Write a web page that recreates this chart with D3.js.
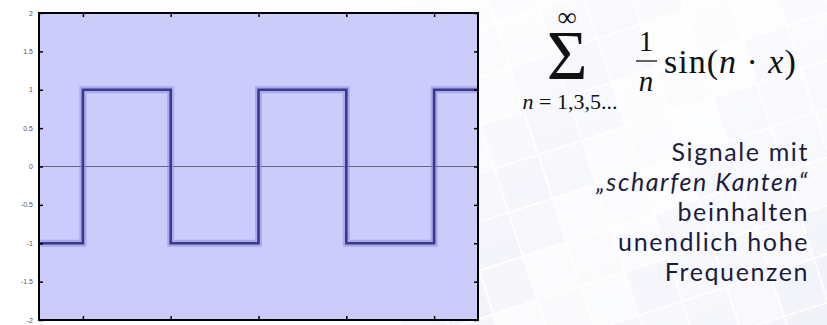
<!DOCTYPE html>
<html>
<head>
<meta charset="utf-8">
<script src="https://cdn.jsdelivr.net/npm/d3@7"></script>
<style>
  html, body { margin: 0; padding: 0; background: #ffffff; }
  svg { display: block; }
  .ylab { font-family: "Liberation Sans", Arial, sans-serif; font-size: 7px; fill: #555; }
  .math { font-family: "Liberation Serif", "DejaVu Serif", serif; fill: #111; }
  .note { font-family: Lato, "Noto Sans", sans-serif; font-size: 25px; fill: #1c1c3c; letter-spacing: 1.6px; }
</style>
</head>
<body>
<svg id="chart" width="827" height="325"></svg>
<script>
// square wave: x in multiples of pi, value holds until the next break
const waveX = [-0.5, 0, 1, 2, 3, 4, 4.5];
const waveY = [-1, 1, -1, 1, -1, 1, 1];

const xTicks = [0, 1, 2, 3, 4];
const yTicks = [2, 1.5, 1, 0.5, 0, -0.5, -1, -1.5, -2];

const noteLines = ["Signale mit", "\u201Escharfen Kanten\u201C", "beinhalten", "unendlich hohe", "Frequenzen"];

const svg = d3.select("#chart");

// faint tiled backdrop on the right
let deco = svg.append("g")
    .attr("transform", "translate(640,170) rotate(-18)");
let shades = [0.35, 0.6, 0.2, 0.5, 0.8, 0.3, 0.45, 0.7, 0.25, 0.55];
let k = 0;
for (let r = -5; r <= 4; r++) {
    for (let c = -6; c <= 5; c++) {
        deco.append("rect")
            .attr("x", c * 46)
            .attr("y", r * 46)
            .attr("width", 46)
            .attr("height", 46)
            .attr("fill", "#d8dbf2")
            .attr("fill-opacity", shades[(k * 7 + r * 3 + 50) % shades.length] * 0.45)
            .attr("stroke", "#ffffff")
            .attr("stroke-width", 1.5);
        k++;
    }
}
// fade the backdrop out towards the top-left
let grad = svg.append("defs").append("linearGradient")
    .attr("id", "fade").attr("x1", "0").attr("y1", "0").attr("x2", "0.8").attr("y2", "1");
grad.append("stop").attr("offset", "0%").attr("stop-color", "#fff").attr("stop-opacity", 1);
grad.append("stop").attr("offset", "50%").attr("stop-color", "#fff").attr("stop-opacity", 0.45);
grad.append("stop").attr("offset", "100%").attr("stop-color", "#fff").attr("stop-opacity", 0.05);
svg.append("rect").attr("x", 0).attr("y", 0).attr("width", 827).attr("height", 325).attr("fill", "url(#fade)");

// plot
const plotLeft = 39, plotRight = 478, plotTop = 13, plotBottom = 320;
const x = d3.scaleLinear().domain([-0.5, 4.5]).range([plotLeft, plotRight]);
const y = d3.scaleLinear().domain([-2, 2]).range([plotBottom, plotTop]);

svg.append("rect")
    .attr("x", plotLeft).attr("y", plotTop)
    .attr("width", plotRight - plotLeft).attr("height", plotBottom - plotTop)
    .attr("fill", "#cbccf9");

// zero line
svg.append("line")
    .attr("x1", plotLeft).attr("x2", plotRight)
    .attr("y1", y(0)).attr("y2", y(0))
    .attr("stroke", "#4a4a66").attr("stroke-width", 0.8);

let pts = waveX.map((d, i) => [d, waveY[i]]);
let line = d3.line()
    .x(d => x(d[0]))
    .y(d => y(d[1]))
    .curve(d3.curveStepAfter);

// glow under the wave
svg.append("path")
    .datum(pts)
    .attr("d", line)
    .attr("fill", "none")
    .attr("stroke", "#8d8de6")
    .attr("stroke-opacity", 0.55)
    .attr("stroke-width", 7);

svg.append("path")
    .datum(pts)
    .attr("d", line)
    .attr("fill", "none")
    .attr("stroke", "#3a3a86")
    .attr("stroke-width", 2.6);

// axes, ticks pointing inward
svg.append("g")
    .attr("transform", `translate(0,${plotBottom})`)
    .call(d3.axisTop(x).tickValues(xTicks).tickSize(4).tickFormat(""))
    .call(g => g.select(".domain").remove());
svg.append("g")
    .attr("transform", `translate(0,${plotTop})`)
    .call(d3.axisBottom(x).tickValues(xTicks).tickSize(4).tickFormat(""))
    .call(g => g.select(".domain").remove());
svg.append("g")
    .attr("transform", `translate(${plotLeft},0)`)
    .call(d3.axisRight(y).tickValues(yTicks).tickSize(4).tickFormat(""))
    .call(g => g.select(".domain").remove());
svg.append("g")
    .attr("transform", `translate(${plotRight},0)`)
    .call(d3.axisLeft(y).tickValues(yTicks).tickSize(4).tickFormat(""))
    .call(g => g.select(".domain").remove());
svg.selectAll(".tick line").attr("stroke", "#000").attr("stroke-width", 1.5);

svg.append("g")
    .selectAll("text")
    .data(yTicks)
    .join("text")
    .attr("class", "ylab")
    .attr("x", plotLeft - 6)
    .attr("y", d => y(d) + 2.5)
    .attr("text-anchor", "end")
    .text(d => d);

svg.append("rect")
    .attr("x", plotLeft).attr("y", plotTop)
    .attr("width", plotRight - plotLeft).attr("height", plotBottom - plotTop)
    .attr("fill", "none")
    .attr("stroke", "#000")
    .attr("stroke-width", 2);

// formula: sum operator with its upper limit in one text element
let f = svg.append("g").attr("class", "math");
let op = f.append("text").attr("text-anchor", "middle");
op.append("tspan").attr("x", 567).attr("y", 26).style("font-size", "27px").text("\u221E");
op.append("tspan").attr("x", 567).attr("y", 79).style("font-size", "70px").text("\u03A3");
let sub = f.append("text").attr("x", 570).attr("y", 109).attr("text-anchor", "middle")
    .style("font-size", "22px");
sub.append("tspan").style("font-style", "italic").text("n");
sub.append("tspan").text(" = 1,3,5...");
f.append("text").attr("x", 646).attr("y", 51).attr("text-anchor", "middle")
    .style("font-size", "29px").text("1");
f.append("line").attr("x1", 636).attr("x2", 657).attr("y1", 61).attr("y2", 61)
    .attr("stroke", "#111").attr("stroke-width", 1.3);
f.append("text").attr("x", 646).attr("y", 91).attr("text-anchor", "middle")
    .style("font-size", "29px").style("font-style", "italic").text("n");
let sn = f.append("text").attr("x", 664).attr("y", 73)
    .style("font-size", "34px").style("letter-spacing", "1px");
sn.append("tspan").text("sin(");
sn.append("tspan").style("font-style", "italic").text("n");
sn.append("tspan").text(" \u00B7 ");
sn.append("tspan").style("font-style", "italic").text("x");
sn.append("tspan").text(")");

// note text
svg.append("g")
    .selectAll("text")
    .data(noteLines)
    .join("text")
    .attr("class", "note")
    .attr("x", 809)
    .attr("y", (d, i) => 161 + i * 30)
    .attr("text-anchor", "end")
    .style("font-style", (d, i) => i === 1 ? "italic" : "normal")
    .text(d => d);
</script>
</body>
</html>
